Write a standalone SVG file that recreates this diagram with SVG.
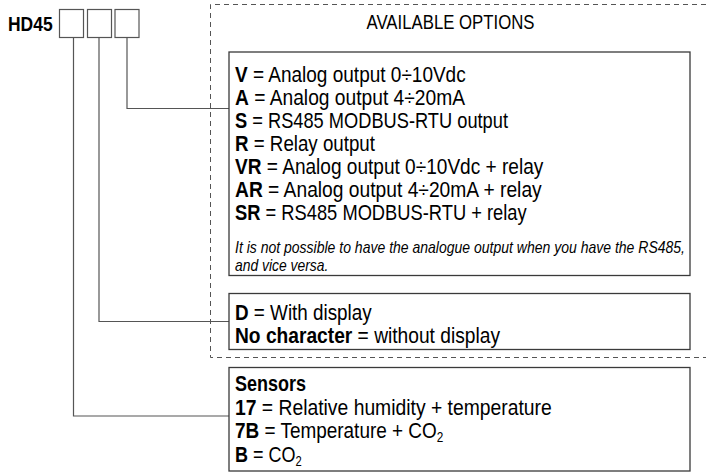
<svg xmlns="http://www.w3.org/2000/svg" width="706" height="472" viewBox="0 0 706 472">
<style>
text{font-family:"Liberation Sans",Arial,sans-serif;fill:#000}
.t{font-size:22.5px}
.b{font-weight:bold}
.i{font-size:16.5px;font-style:italic}
.box{fill:#fff;stroke:#3a3a3a;stroke-width:1.3}
.sq{fill:#fff;stroke:#555;stroke-width:1.2}
.con{fill:none;stroke:#555;stroke-width:1.2}
.dash{fill:none;stroke:#555;stroke-width:1;stroke-dasharray:5 4}
</style>
<rect width="706" height="472" fill="#fff"/>
<path class="dash" d="M706,4.5 H210.5 V357.5 H706"/>
<g id="code">
<text x="8" y="31" class="b" font-size="20" textLength="44.7" lengthAdjust="spacingAndGlyphs">HD45</text>
<rect class="sq" x="59.5" y="9.5" width="24" height="28"/>
<rect class="sq" x="87.5" y="9.5" width="24" height="28"/>
<rect class="sq" x="115" y="9.5" width="24" height="28"/>
</g>
<g id="connectors">
<path class="con" d="M127,37.5 V108.5 H229"/>
<path class="con" d="M99,37.5 V321.5 H229"/>
<path class="con" d="M73.5,37.5 V416 H229"/>
</g>
<text x="450.5" y="29.3" font-size="20" text-anchor="middle" textLength="168" lengthAdjust="spacingAndGlyphs">AVAILABLE OPTIONS</text>
<g id="output-options">
<rect class="box" x="229" y="52" width="461" height="223.5"/>
<text class="t" x="235" y="81.5" textLength="230.7" lengthAdjust="spacingAndGlyphs"><tspan class="b">V</tspan> = Analog output 0÷10Vdc</text>
<text class="t" x="235" y="104.5" textLength="230" lengthAdjust="spacingAndGlyphs"><tspan class="b">A</tspan> = Analog output 4÷20mA</text>
<text class="t" x="235" y="127.5" textLength="273" lengthAdjust="spacingAndGlyphs"><tspan class="b">S</tspan> = RS485 MODBUS-RTU output</text>
<text class="t" x="235" y="150.5" textLength="140" lengthAdjust="spacingAndGlyphs"><tspan class="b">R</tspan> = Relay output</text>
<text class="t" x="235" y="173.5" textLength="308.3" lengthAdjust="spacingAndGlyphs"><tspan class="b">VR</tspan> = Analog output 0÷10Vdc + relay</text>
<text class="t" x="235" y="196.5" textLength="306.7" lengthAdjust="spacingAndGlyphs"><tspan class="b">AR</tspan> = Analog output 4÷20mA + relay</text>
<text class="t" x="235" y="219.5" textLength="291.7" lengthAdjust="spacingAndGlyphs"><tspan class="b">SR</tspan> = RS485 MODBUS-RTU + relay</text>
<text class="i" x="235" y="253" textLength="450" lengthAdjust="spacingAndGlyphs">It is not possible to have the analogue output when you have the RS485,</text>
<text class="i" x="235" y="271" textLength="93.3" lengthAdjust="spacingAndGlyphs">and vice versa.</text>
</g>
<g id="display-options">
<rect class="box" x="229" y="293.5" width="461" height="56"/>
<text class="t" x="235" y="319.5" textLength="136.7" lengthAdjust="spacingAndGlyphs"><tspan class="b">D</tspan> = With display</text>
<text class="t" x="235" y="342.5" textLength="265" lengthAdjust="spacingAndGlyphs"><tspan class="b">No character</tspan> = without display</text>
</g>
<g id="sensors">
<rect class="box" x="229" y="367.5" width="461" height="103.5"/>
<text class="t b" x="235" y="391" textLength="71" lengthAdjust="spacingAndGlyphs">Sensors</text>
<text class="t" x="235" y="414.5" textLength="316.7" lengthAdjust="spacingAndGlyphs"><tspan class="b">17</tspan> = Relative humidity + temperature</text>
<text class="t" x="235" y="438" textLength="208.3" lengthAdjust="spacingAndGlyphs"><tspan class="b">7B</tspan> = Temperature + CO<tspan font-size="14" dy="4">2</tspan></text>
<text class="t" x="235" y="461.5" textLength="66.7" lengthAdjust="spacingAndGlyphs"><tspan class="b">B</tspan> = CO<tspan font-size="14" dy="4">2</tspan></text>
</g>
</svg>
